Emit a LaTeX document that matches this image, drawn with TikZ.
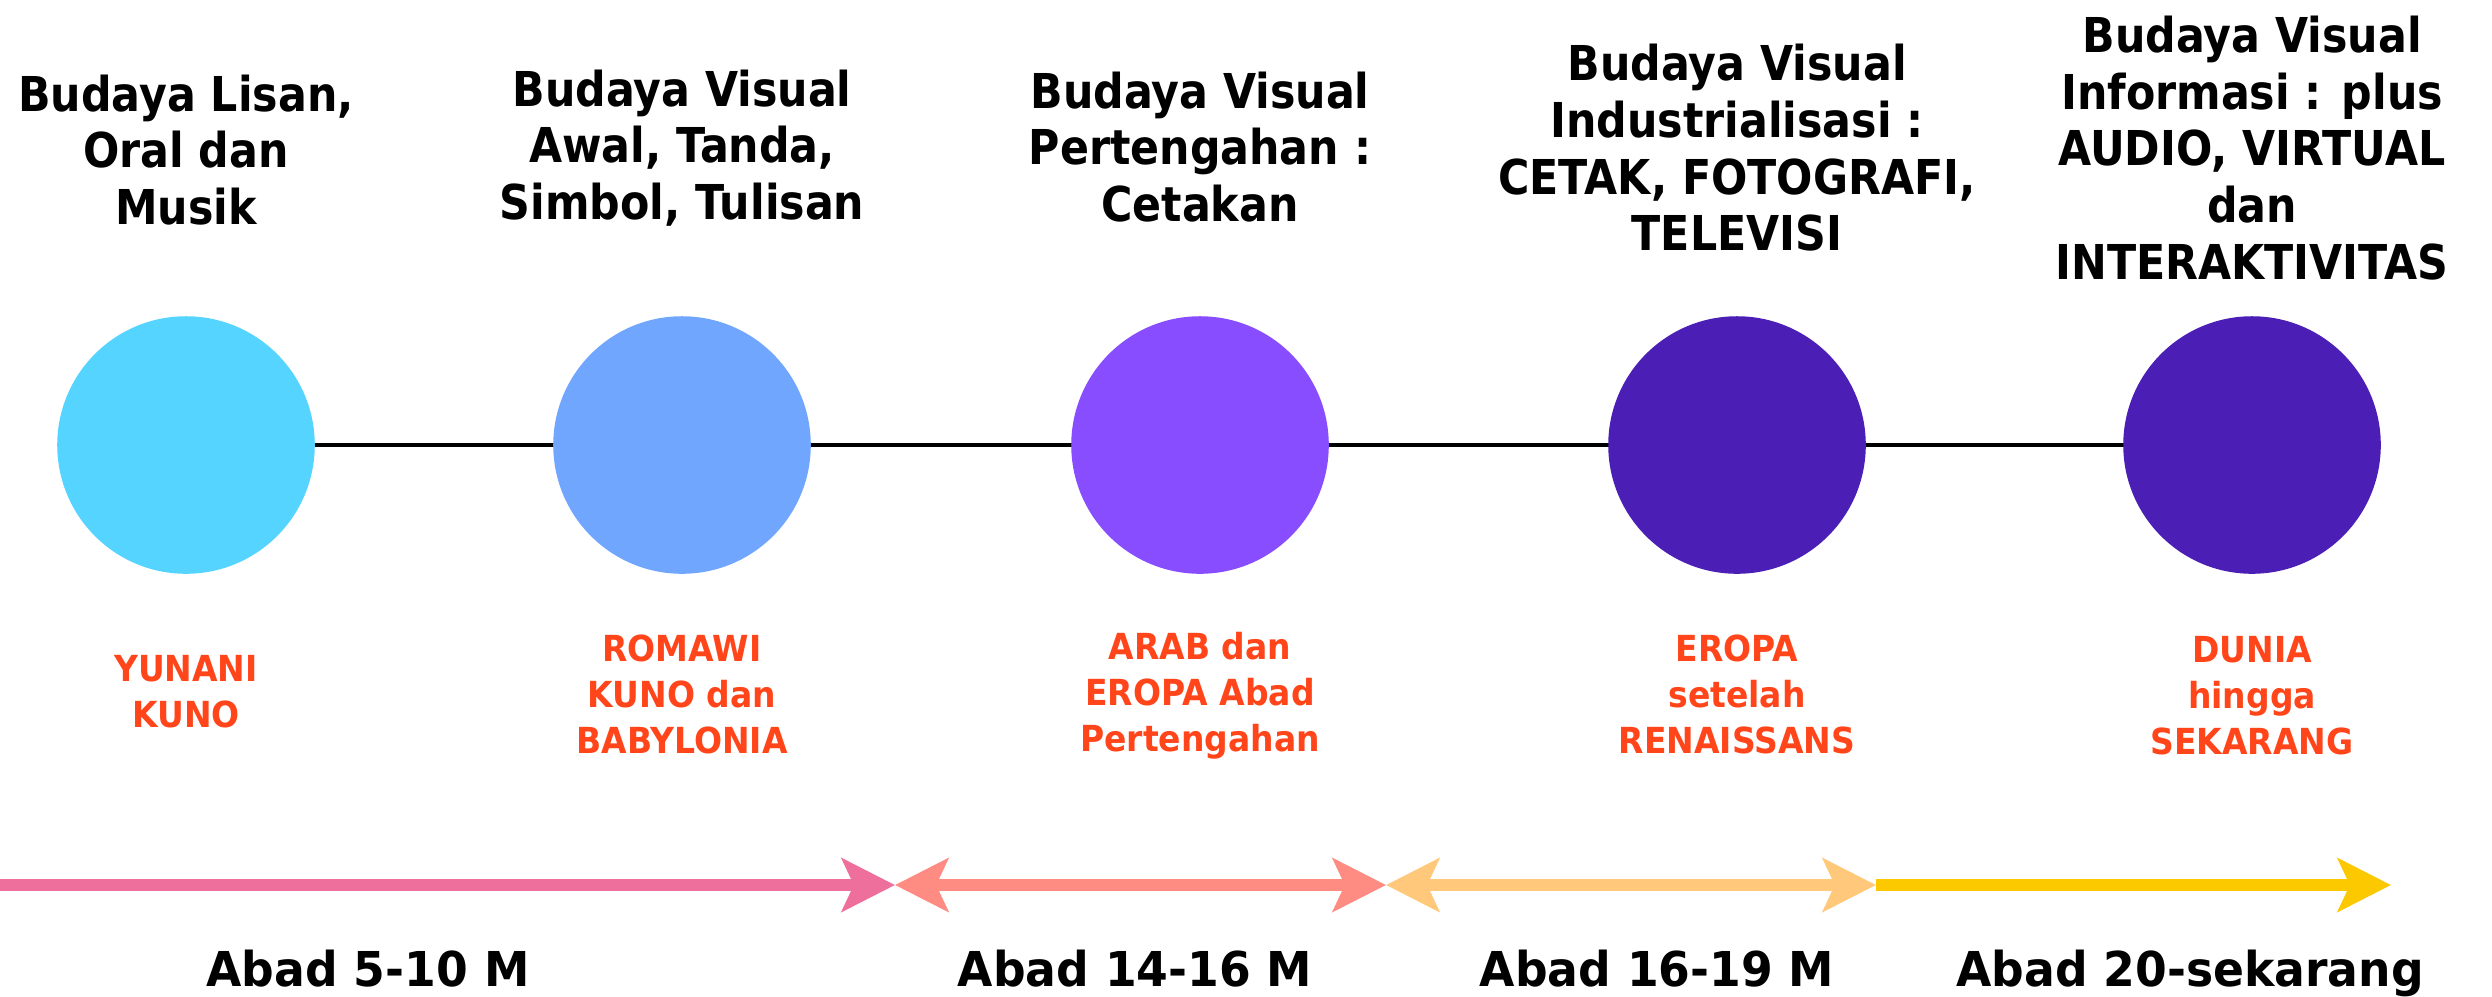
\documentclass[tikz,border=0pt]{standalone}
\usepackage{fontspec}
\setmainfont{DejaVu Sans}
\newfontfamily\topfont{DejaVu Sans}[FakeStretch=0.89]
\newfontfamily\botfont{DejaVu Sans}[FakeStretch=0.95]
\newfontfamily\orfont{DejaVu Sans}[FakeStretch=0.92]
\usetikzlibrary{arrows.meta}
\definecolor{cA}{HTML}{55D4FF}
\definecolor{cB}{HTML}{71A6FF}
\definecolor{cC}{HTML}{884DFF}
\definecolor{cD}{HTML}{4B1FB5}
\definecolor{orng}{HTML}{FF4519}
\definecolor{arP}{HTML}{EE6F9C}
\definecolor{arS}{HTML}{FF8C82}
\definecolor{arO}{HTML}{FFC87A}
\definecolor{arY}{HTML}{FCC800}
\begin{document}
\begin{tikzpicture}[x=0.01cm,y=-0.01cm,
  dot/.style={circle,minimum size=2.574cm,inner sep=0pt},
  toplab/.style={align=center,inner sep=0pt,font=\topfont\bfseries\fontsize{13.66}{16.1}\selectfont},
  orlab/.style={align=center,inner sep=0pt,text=orng,font=\orfont\bfseries\fontsize{10.2}{13.1}\selectfont},
  botlab/.style={inner sep=0pt,anchor=base,font=\botfont\bfseries\fontsize{13.66}{16.1}\selectfont},
  tl/.style={line width=3.6pt,-{Stealth[length=15.1pt,width=15.1pt,inset=3.4pt]}},
  tlb/.style={line width=3.6pt,{Stealth[length=15.1pt,width=15.1pt,inset=3.4pt]}-{Stealth[length=15.1pt,width=15.1pt,inset=3.4pt]}}
]
\useasboundingbox[fill=white] (0,0) rectangle (2492,996);
% centres
\coordinate (k1) at (186,445);
\coordinate (k2) at (682,445);
\coordinate (k3) at (1200,445);
\coordinate (k4) at (1737,445);
\coordinate (k5) at (2252,445);
\draw[line width=1.4pt,black] (k1) -- (k5);
\node[dot,fill=cA] (c1) at (k1) {};
\node[dot,fill=cB] (c2) at (k2) {};
\node[dot,fill=cC] (c3) at (k3) {};
\node[dot,fill=cD] (c4) at (k4) {};
\node[dot,fill=cD] (c5) at (k5) {};
% top labels
\node[toplab] (t1) at (186,150) {Budaya Lisan,\\Oral dan\\Musik};
\node[toplab] (t2) at (682,148) {Budaya Visual\\Awal, Tanda,\\Simbol, Tulisan};
\node[toplab] (t3) at (1200,147) {Budaya Visual\\Pertengahan :\\Cetakan};
\node[toplab] (t4) at (1737,148) {Budaya Visual\\Industrialisasi :\\CETAK, FOTOGRAFI,\\TELEVISI};
\node[toplab] (t5) at (2252,148) {Budaya Visual\\Informasi : plus\\AUDIO, VIRTUAL\\dan\\INTERAKTIVITAS};
% orange labels
\node[orlab] (o1) at (186,692) {YUNANI\\KUNO};
\node[orlab] (o2) at (682,694) {ROMAWI\\KUNO dan\\BABYLONIA};
\node[orlab] (o3) at (1200,696) {ARAB dan\\EROPA Abad\\Pertengahan};
\node[orlab] (o4) at (1737,694) {EROPA\\setelah\\RENAISSANS};
\node[orlab] (o5) at (2252,696) {DUNIA\\hingga\\SEKARANG};
% bottom arrows
\coordinate (a0) at (0,885);
\coordinate (a1) at (895,885);
\coordinate (a2) at (1386,885);
\coordinate (a3) at (1876,885);
\coordinate (a4) at (2391,885);
\draw[tl,arP] (a0) -- (a1);
\draw[tlb,arS] (a1) -- (a2);
\draw[tlb,arO] (a2) -- (a3);
\draw[tl,arY] (a3) -- (a4);
% bottom labels
\node[botlab] (b1) at (368,986) {Abad 5-10 M};
\node[botlab] (b2) at (1135,986) {Abad 14-16 M};
\node[botlab] (b3) at (1657,986) {Abad 16-19 M};
\node[botlab] (b4) at (2190,986) {Abad 20-sekarang};
\end{tikzpicture}
\end{document}
